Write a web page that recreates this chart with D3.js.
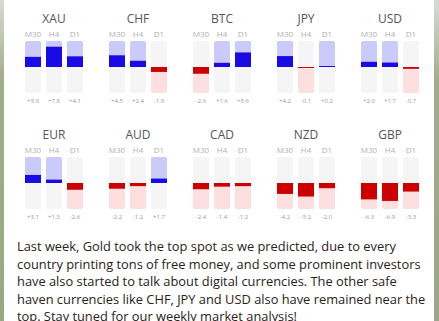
<!DOCTYPE html>
<html lang="en">
<head>
<meta charset="utf-8">
<title>Currency strength</title>
<script src="https://d3js.org/d3.v7.min.js"></script>
<style>
  html, body { margin: 0; padding: 0; background: #9fae8a; }
  svg { display: block; }
</style>
</head>
<body>
<script>
// values
var currencies = ["XAU", "CHF", "BTC", "JPY", "USD", "EUR", "AUD", "CAD", "NZD", "GBP"];
var timeframes = ["M30", "H4", "D1"];
var m30Values = [3.9, 4.5, -2.6, 4.2, 2.0, 3.1, -2.2, -2.4, -4.2, -6.3];
var h4Values  = [7.8, 2.4, 1.6, -0.1, 1.7, 1.3, -1.2, -1.4, -5.2, -6.9];
var d1Values  = [4.1, -1.9, 5.6, 0.2, -0.7, -2.6, 1.7, -1.2, -2.0, -3.3];
var textLines = [
  "Last week, Gold took the top spot as we predicted, due to every",
  "country printing tons of free money, and some prominent investors",
  "have also started to talk about digital currencies. The other safe",
  "haven currencies like CHF, JPY and USD also have remained near the",
  "top. Stay tuned for our weekly market analysis!"
];

var W = 439, H = 321;
var svg = d3.select("body").append("svg").attr("width", W).attr("height", H);

// background strips + white card
var bg = svg.append("defs").append("linearGradient").attr("id", "lg")
  .attr("x1", 0).attr("y1", 0).attr("x2", 0).attr("y2", 1);
bg.append("stop").attr("offset", "0").attr("stop-color", "#d9dbd3");
bg.append("stop").attr("offset", "0.25").attr("stop-color", "#9fae8a");
bg.append("stop").attr("offset", "1").attr("stop-color", "#98a985");
svg.append("rect").attr("width", W).attr("height", H).attr("fill", "url(#lg)");
svg.append("rect").attr("x", 4).attr("y", 0).attr("width", 430).attr("height", H).attr("fill", "#ffffff");

var data = currencies.map(function(c, i) {
  return {name: c, row: i < 5 ? 0 : 1, col: i % 5,
          vals: [m30Values[i], h4Values[i], d1Values[i]]};
});

var xPanel = d3.scaleBand().domain(d3.range(5)).range([12, 432]);
var xBar = d3.scaleBand().domain(timeframes).range([-31.5, 31.5])
  .paddingInner(5 / 21).paddingOuter(5 / 42);
var rowTop = [41, 157];
var yScales = rowTop.map(function(t) {
  return d3.scaleLinear().domain([-10, 10]).range([t + 52, t]);
});

var panels = svg.selectAll("g.panel").data(data).enter().append("g")
  .attr("class", "panel")
  .attr("transform", function(d) {
    return "translate(" + (xPanel(d.col) + xPanel.bandwidth() / 2) + ",0)";
  });

panels.append("text")
  .attr("y", function(d) { return rowTop[d.row] - 18; })
  .attr("text-anchor", "middle")
  .attr("font-family", "Open Sans, sans-serif")
  .attr("font-size", "12px")
  .attr("fill", "#555")
  .text(function(d) { return d.name; });

panels.each(function(d) {
  var g = d3.select(this);
  var y = yScales[d.row];
  var bw = xBar.bandwidth();
  var bars = g.selectAll("g.bar").data(d.vals.map(function(v, k) {
    return {tf: timeframes[k], v: v};
  })).enter().append("g").attr("class", "bar")
    .attr("transform", function(b) { return "translate(" + xBar(b.tf) + ",0)"; });

  bars.append("text")
    .attr("x", bw / 2).attr("y", y(10) - 4)
    .attr("text-anchor", "middle")
    .attr("font-family", "Open Sans, sans-serif")
    .attr("font-size", "8px").attr("fill", "#b0b0b0")
    .text(function(b) { return b.tf; });

  // background track
  bars.append("rect")
    .attr("width", bw).attr("y", y(10)).attr("height", y(-10) - y(10))
    .attr("rx", 2).attr("fill", "#f5f5f5");
  // light half
  bars.append("rect")
    .attr("width", bw)
    .attr("y", function(b) { return b.v >= 0 ? y(10) : y(0); })
    .attr("height", y(-10) - y(0))
    .attr("rx", 2)
    .attr("fill", function(b) { return b.v >= 0 ? "#cacafb" : "#fddfe0"; });
  // value bar
  bars.append("rect")
    .attr("width", bw)
    .attr("y", function(b) {
      var h = Math.max(1, Math.abs(y(b.v) - y(0)));
      return b.v >= 0 ? y(0) - h : y(0);
    })
    .attr("height", function(b) { return Math.max(1, Math.abs(y(b.v) - y(0))); })
    .attr("fill", function(b) { return b.v >= 0 ? "#1a0be6" : "#cc0000"; });

  bars.append("text")
    .attr("x", bw / 2).attr("y", y(-10) + 10)
    .attr("text-anchor", "middle")
    .attr("font-family", "Open Sans, sans-serif")
    .attr("font-size", "6px").attr("fill", "#999")
    .text(function(b) { return (b.v > 0 ? "+" : "") + b.v.toFixed(1); });
});

// paragraph
svg.append("g").selectAll("text").data(textLines).enter().append("text")
  .attr("x", 17)
  .attr("y", function(d, i) { return 251 + i * 17.6; })
  .attr("font-family", "Open Sans, sans-serif")
  .attr("font-size", "12.85px")
  .attr("fill", "#2a2218")
  .text(function(d) { return d; });
</script>
</body>
</html>
